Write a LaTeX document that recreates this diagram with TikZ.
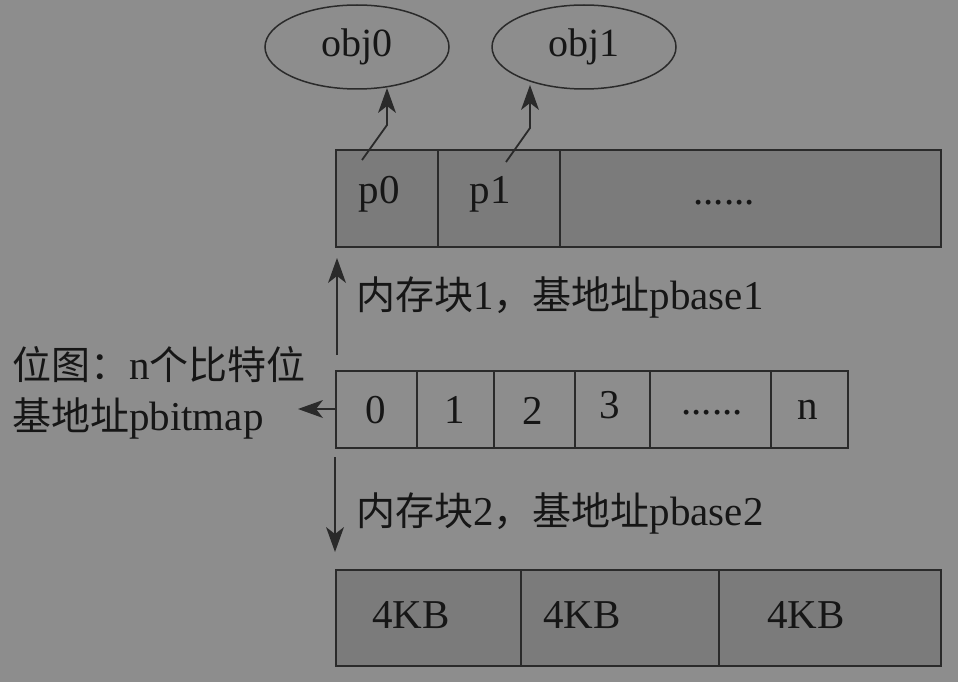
\documentclass[tikz,border=0pt]{standalone}
\usepackage{fontspec}
\setmainfont{Liberation Serif}
\newfontfamily\cjkfam{Noto Sans CJK SC}
\newcommand\cj[1]{{\fontsize{39}{44}\cjkfam #1}}
\usetikzlibrary{shapes.geometric}
\definecolor{bgc}{HTML}{8D8D8D}
\definecolor{boxc}{HTML}{7B7B7B}
\definecolor{linec}{HTML}{2A2A2A}
\definecolor{txtc}{HTML}{161616}
% filled arrow head: #1 tip coordinate, #2 rotation (0 = pointing up)
\newcommand\myhead[2]{\fill[linec, shift={(#1)}, rotate=#2] (0,0) -- (-9,25) -- (0,18) -- (9,25) -- cycle;}
\begin{document}
\begin{tikzpicture}[x=1pt,y=-1pt]
\tikzset{
  cell/.style={draw=linec, line width=1.5pt, inner sep=0pt, anchor=north west},
  filled/.style={cell, fill=boxc},
  objnode/.style={ellipse, draw=linec, line width=1.5pt, minimum width=184pt, minimum height=84pt, inner sep=0pt, text=txtc, font=\fontsize{40}{44}\selectfont},
  txt/.style={text=txtc, inner sep=0pt, font=\fontsize{41}{46}\selectfont},
  arr/.style={draw=linec, line width=1.8pt}}
\fill[bgc] (0,0) rectangle (958,682);
\useasboundingbox (0,0) rectangle (958,682);
% ellipses
\node[objnode] (obj0) at (357,47) {obj0};
\node[objnode] (obj1) at (584,47) {obj1};
% top row
\node[filled, minimum width=102pt, minimum height=97pt] (t0) at (335,149) {};
\node[filled, minimum width=122pt, minimum height=97pt] (t1) at (437,149) {};
\node[filled, minimum width=381pt, minimum height=97pt] (t2) at (559,149) {};
\node[txt] (p0) at (379,194) {p0};
\node[txt] (p1) at (490,194) {p1};
\node[txt] (tdots) at (724,203) {......};
% pointer arrows
\coordinate (a0s) at (362,160);
\coordinate (a0m) at (387,125);
\coordinate (a0t) at (387,88);
\coordinate (a1s) at (506,162);
\coordinate (a1m) at (530,128);
\coordinate (a1t) at (530,85);
\draw[arr] (a0s) -- (a0m) -- ([yshift=-14pt]a0t);
\myhead{a0t}{0}
\draw[arr] (a1s) -- (a1m) -- ([yshift=-14pt]a1t);
\myhead{a1t}{0}
% bitmap row
\node[cell, minimum width=81pt, minimum height=77pt] (b0) at (335,370) {};
\node[cell, minimum width=77pt, minimum height=77pt] (b1) at (416,370) {};
\node[cell, minimum width=81pt, minimum height=77pt] (b2) at (493,370) {};
\node[cell, minimum width=75pt, minimum height=77pt] (b3) at (574,370) {};
\node[cell, minimum width=121pt, minimum height=77pt] (b4) at (649,370) {};
\node[cell, minimum width=77pt, minimum height=77pt] (b5) at (770,370) {};
\node[txt] (l0) at (376,410) {0};
\node[txt] (l1) at (455,410) {1};
\node[txt] (l2) at (533,411) {2};
\node[txt] (l3) at (610,405) {3};
\node[txt] (l4) at (712,413) {......};
\node[txt] (l5) at (808,410) {n};
% bottom row
\node[filled, minimum width=185pt, minimum height=96pt] (m0) at (335,569) {};
\node[filled, minimum width=198pt, minimum height=96pt] (m1) at (520,569) {};
\node[filled, minimum width=222pt, minimum height=96pt] (m2) at (718,569) {};
\node[txt] (k0) at (411,615) {4KB};
\node[txt] (k1) at (582,615) {4KB};
\node[txt] (k2) at (806,615) {4KB};
% labels
\node[txt, anchor=west] (lab1) at (356,297) {\cj{内存块}1\cj{，基地址}pbase1};
\node[txt, anchor=west] (lab2) at (356,513) {\cj{内存块}2\cj{，基地址}pbase2};
\node[txt, anchor=west] (bm1) at (12,365) {\cj{位图：}n\cj{个比特位}};
\node[txt, anchor=west] (bm2) at (12,418) {\cj{基地址}pbitmap};
% block arrows
\coordinate (up0) at (337,355);
\coordinate (up1) at (337,258);
\coordinate (dn0) at (335,457);
\coordinate (dn1) at (335,552);
\coordinate (lf1) at (298,409);
\draw[arr] (up0) -- ([yshift=-14pt]up1);
\myhead{up1}{0}
\draw[arr] (dn0) -- ([yshift=14pt]dn1);
\myhead{dn1}{180}
\draw[arr] (b0.west |- lf1) -- ([xshift=14pt]lf1);
\myhead{lf1}{90}
\end{tikzpicture}
\end{document}
